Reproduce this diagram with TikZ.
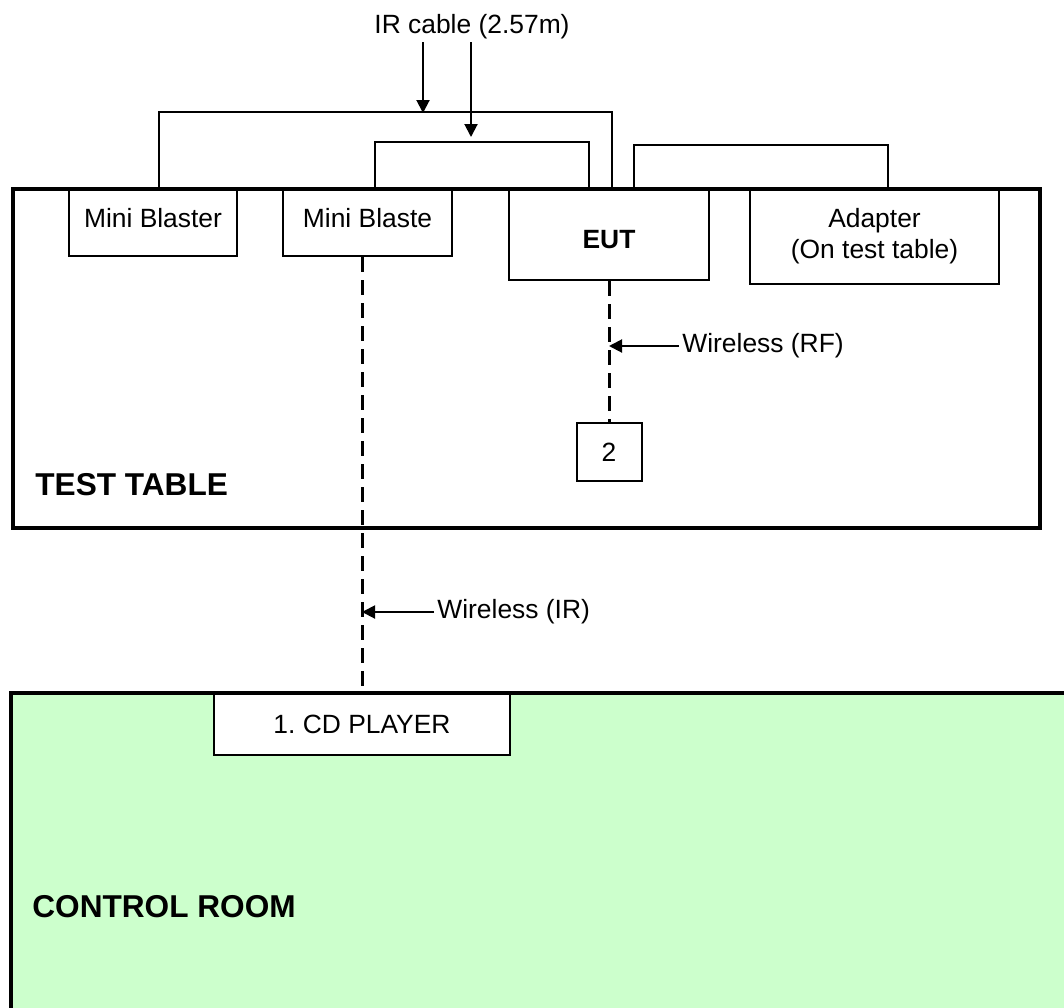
\documentclass[tikz,border=0pt]{standalone}
\usepackage{fontspec}
\setmainfont{Liberation Sans}
\usetikzlibrary{arrows.meta}
\definecolor{roomgreen}{HTML}{CCFFCC}
\frenchspacing

\begin{document}
\begin{tikzpicture}[x=0.5pt, y=-0.5pt,
    dev/.style={rectangle, draw, line width=1pt, fill=white, inner sep=0pt,
        font=\fontsize{13.2}{15.5}\selectfont, align=center},
    lbl/.style={inner sep=1.5pt, font=\fontsize{13.2}{15.5}\selectfont},
    area/.style={anchor=west, inner sep=0pt, font=\fontsize{15.8}{19}\selectfont\bfseries},
    wall/.style={line width=2pt},
    cable/.style={line width=1pt},
    wl/.style={line width=1.5pt, dash pattern=on 7.5pt off 4pt},
    arr/.style={-{Triangle[length=6.5pt, width=6.5pt]}, line width=1pt}
]
\useasboundingbox (0,0) rectangle (1064,1007);
\clip (0,0) rectangle (1064,1007);

% control room
\fill[roomgreen] (11,693) rectangle (1100,1040);
\node[dev, minimum width=148pt, minimum height=31pt] (cd) at (362,724) {1. CD PLAYER};
\draw[wall] (11,1040) -- (11,693) -- (1100,693);
\node[area] (cr) at (32,907) {CONTROL ROOM};

% test table
\node[dev, minimum width=84pt, minimum height=33.5pt, text depth=5pt] (mb1) at (153,222.5) {Mini Blaster};
\node[dev, minimum width=84.5pt, minimum height=33.5pt, text depth=5pt] (mb2) at (367.5,222.5) {Mini Blaste};
\node[dev, minimum width=100pt, minimum height=45.5pt, text height=14.5pt,
    font=\fontsize{13.2}{15.5}\selectfont\bfseries] (eut) at (609,234.5) {EUT};
\node[dev, minimum width=124.5pt, minimum height=47.5pt] (adp) at (874.5,236.5) {Adapter\\(On test table)};
\node[dev, minimum width=32.5pt, minimum height=29pt] (n2) at (609,452) {2};
\draw[wall] (12.7,189) rectangle (1040,528);
\node[area] (tt) at (35,485) {TEST TABLE};

% cables
\draw[cable] ([xshift=3pt]mb1.north) -- ++(0,-76) -| ([xshift=1.5pt]eut.north);
\draw[cable] ([xshift=3.75pt]mb2.north) -- ++(0,-46) -| ([xshift=-10pt]eut.north);
\draw[cable] ([xshift=12.5pt]eut.north) -- ++(0,-43) -| ([xshift=6.75pt]adp.north);

\coordinate (t1) at (423,113);
\coordinate (t2) at (471,137);
\node[lbl, anchor=south] (irc) at (472,42) {IR cable (2.57m)};
\draw[arr] (irc.south -| t1) -- (t1);
\draw[arr] (irc.south -| t2) -- (t2);

% wireless links
\draw[wl] (eut.south) -- (n2.north);
\node[lbl, anchor=west] (rf) at (679,346) {Wireless (RF)};
\draw[arr] (rf.west) -- (rf.west -| eut.south);

\draw[wl] (cd.north |- mb2.south) -- (cd.north);
\node[lbl, anchor=west] (ir) at (434,612) {Wireless (IR)};
\draw[arr] (ir.west) -- (ir.west -| cd.north);
\end{tikzpicture}
\end{document}
